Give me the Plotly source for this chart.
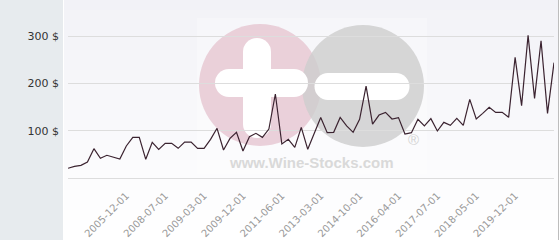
import plotly.graph_objects as go

# ---- data ----
prices = [20.5, 24.7, 26.8, 33.8, 62, 41.5, 48, 43.7, 40, 67.6,
          86, 86, 39.5, 75.4, 60.6, 73.3, 73.3, 62.7, 76, 76,
          62.7, 62.7, 81.7, 105, 59.2, 83.8, 96.5, 57, 87.3, 94.4,
          85.9, 103.5, 177.5, 71.8, 81.7, 64.8, 107, 60.6, 96, 128,
          95.8, 96.5, 128, 110, 96.5, 124, 194, 114, 133, 138.7,
          124.7, 127.5, 93, 95.8, 124, 110, 125.4, 99.3, 117.6, 111.3,
          126, 111.3, 166, 124.7, 136.6, 149.3, 138.7, 138.7, 128.2, 255,
          152.8, 301.4, 168.3, 290, 136.6, 243.7]
tick_labels = ["2005-12-01", "2008-07-01", "2009-03-01", "2009-12-01", "2011-06-01",
               "2013-03-01", "2014-10-01", "2016-04-01", "2017-07-01", "2018-05-01",
               "2019-12-01"]
tick_positions = [9, 15, 21, 27, 33, 39, 45, 51, 57, 63, 69]
y_ticks = [100, 200, 300]
y_labels = ["100 $", "200 $", "300 $"]

x_idx = list(range(len(prices)))

# ---- layout geometry (pixels) ----
W, H = 560, 240
ML, MR, MT, MB = 68, 6, 8, 62
PW = W - ML - MR
PH = H - MT - MB


def px(x):
    return (x - ML) / PW


def py(y):
    return (H - MB - y) / PH


shapes = []
# left gray panel
shapes.append(dict(type="rect", xref="paper", yref="paper", x0=px(0), x1=px(63),
                   y0=py(H), y1=py(0), fillcolor="#e7ebee", line=dict(width=0), layer="below"))
# gradient background bands
top = (242, 242, 247)
bot = (255, 255, 255)
n = 24
for i in range(n):
    t = i / (n - 1)
    c = tuple(round(top[k] + (bot[k] - top[k]) * t) for k in range(3))
    shapes.append(dict(type="rect", xref="paper", yref="paper", x0=px(64), x1=px(558),
                       y0=py((i + 1) * H / n + 0.5), y1=py(i * H / n),
                       fillcolor="rgb(%d,%d,%d)" % c, line=dict(width=0), layer="below"))
# watermark
shapes.append(dict(type="rect", xref="paper", yref="paper", x0=px(197), x1=px(427),
                   y0=py(174), y1=py(18), fillcolor="rgba(255,255,255,0.3)",
                   line=dict(width=0), layer="below"))


def circ(cx, cy, r, color):
    return dict(type="circle", xref="paper", yref="paper", x0=px(cx - r), x1=px(cx + r),
                y0=py(cy + r), y1=py(cy - r), fillcolor=color, line=dict(width=0), layer="below")


def rbar(x0, x1, y0, y1, color="white"):
    out = [dict(type="rect", xref="paper", yref="paper", x0=px(x0), x1=px(x1),
                y0=py(y1), y1=py(y0), fillcolor=color, line=dict(width=0), layer="below")]
    return out


shapes.append(circ(260, 85, 61, "rgba(230,198,209,0.8)"))
shapes.append(circ(363, 86, 61, "rgba(205,205,205,0.8)"))
# plus sign
shapes += rbar(229, 294, 69, 97)
shapes.append(circ(229, 83, 14, "white"))
shapes.append(circ(294, 83, 14, "white"))
shapes += rbar(243, 271, 52, 124)
shapes.append(circ(257, 52, 14, "white"))
shapes.append(circ(257, 124, 14, "white"))
# minus sign
shapes += rbar(328, 396, 73, 100)
shapes.append(circ(328, 86.5, 13.5, "white"))
shapes.append(circ(396, 86.5, 13.5, "white"))
# right border line
shapes.append(dict(type="line", xref="paper", yref="paper", x0=px(558.5), x1=px(558.5),
                   y0=py(H), y1=py(0), line=dict(color="#bdbdbd", width=1), layer="below"))

annotations = [
    dict(text="<b>www.Wine-Stocks.com</b>", xref="paper", yref="paper", x=px(311), y=py(162),
         showarrow=False, font=dict(family="Liberation Sans", size=15, color="#d9d9d9"),
         xanchor="center", yanchor="middle"),
    dict(text="®", xref="paper", yref="paper", x=px(413), y=py(139),
         showarrow=False, font=dict(family="Liberation Sans", size=15, color="#d3d3d3"),
         xanchor="center", yanchor="middle"),
]

fig = go.Figure()
fig.add_trace(go.Scatter(x=x_idx, y=prices, mode="lines",
                         line=dict(color="#3b2330", width=1.2), hoverinfo="skip"))

fig.update_layout(
    width=W, height=H,
    margin=dict(l=ML, r=MR, t=MT, b=MB, pad=0, autoexpand=False),
    paper_bgcolor="white",
    plot_bgcolor="rgba(0,0,0,0)",
    showlegend=False,
    shapes=shapes,
    annotations=annotations,
    xaxis=dict(range=[0, len(prices) - 1], showgrid=False, zeroline=False, showline=False,
               tickmode="array", tickvals=tick_positions, ticktext=tick_labels,
               tickangle=-45, tickfont=dict(family="DejaVu Sans", size=10, color="#999999"),
               ticks="", ticklabelstandoff=9, automargin=False),
    yaxis=dict(range=[0, PH / (47.33 / 100)], showgrid=True, gridcolor="#dddddd", gridwidth=1,
               zeroline=True, zerolinecolor="#dddddd", zerolinewidth=1, showline=False,
               tickmode="array", tickvals=y_ticks, ticktext=y_labels,
               tickfont=dict(family="DejaVu Sans", size=11, color="#333333"),
               ticks="", ticklabelstandoff=8, automargin=False),
)

fig.write_html("out.html")
